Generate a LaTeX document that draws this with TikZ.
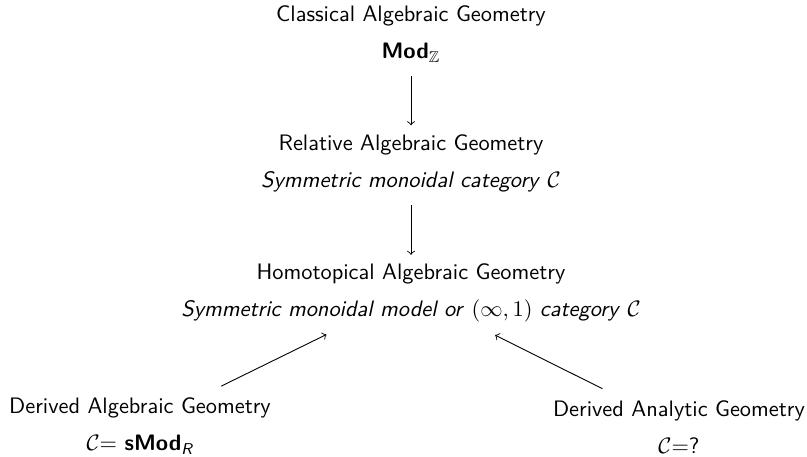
\documentclass[tikz,border=0pt]{standalone}
\usepackage{amsmath,amssymb}
\usetikzlibrary{positioning}

\begin{document}
\begin{tikzpicture}[x=0.447pt,y=-0.447pt,font=\sffamily,
  geom/.style={align=center},
  link/.style={->}]
\useasboundingbox (0,0) rectangle (807,457);

% the four settings
\node[geom] (cag) at (411,34) {Classical Algebraic Geometry\\[4.5pt] \textbf{Mod}$_{\mathbb{Z}}$};
\node[geom] (rag) at (411,163) {Relative Algebraic Geometry\\[4.5pt] \textit{Symmetric monoidal category} $\mathcal{C}$};
\node[geom] (hag) at (411,293) {Homotopical Algebraic Geometry\\[4.5pt] \textit{Symmetric monoidal model or} $(\infty,1)$ \textit{category} $\mathcal{C}$};
\node[geom] (dag) at (140,426) {Derived Algebraic Geometry\\[4.5pt] $\mathcal{C}$= \textbf{sMod}$_{\textit{R}}$};
\node[geom] (dan) at (679,427) {Derived Analytic Geometry\\[4.5pt] $\mathcal{C}$=?};

% arrows
\draw[link, shorten <=2.5pt, shorten >=0.5pt] (cag) -- (rag);
\draw[link, shorten <=2.5pt, shorten >=0.5pt] (rag) -- (hag);
\draw[link, shorten <=4pt, shorten >=4.5pt] (dag) -- (hag);
\draw[link, shorten <=4pt, shorten >=5pt] (dan) -- (hag);
\end{tikzpicture}
\end{document}
